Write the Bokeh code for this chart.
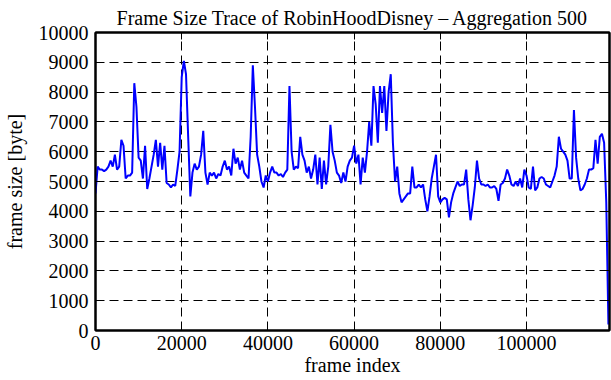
from bokeh.plotting import figure
from bokeh.models import (Range1d, FixedTicker, LinearAxis, BasicTickFormatter,
                          ColumnDataSource)
from bokeh.embed import file_html
from bokeh.resources import INLINE

# ---------------- data ----------------
title_text = "Frame Size Trace of RobinHoodDisney \u2013 Aggregation 500"
x_label = "frame index"
y_label = "frame size [byte]"

aggregation = 500
frame_size = [
    4600, 5500, 5400, 5400, 5350, 5400, 5500, 5700, 5500, 5900,
    5400, 5500, 6400, 6200, 5100, 5200, 5200, 5300, 8300, 7500,
    5800, 5700, 5100, 6200, 4750, 5100, 5500, 5900, 6400, 5500,
    6300, 5400, 6200, 4950, 4900, 4800, 4900, 4850, 5400, 6000,
    8500, 9050, 8600, 6500, 4500, 5300, 5600, 5400, 5500, 5900,
    6700, 5300, 4900, 5300, 5200, 5300, 5100, 5250, 5200, 5500,
    5700, 5400, 5500, 5200, 6100, 5600, 5800, 5400, 5700, 5300,
    5200, 5100, 6500, 8900, 7500, 5900, 5500, 5000, 4800, 5200,
    5000, 5300, 5500, 5300, 5300, 5200, 5250, 5150, 5300, 5400,
    8200, 6000, 5400, 5500, 5450, 6500, 5900, 5700, 5300, 5500,
    5100, 5400, 5900, 4900, 5800, 4750, 5700, 4900, 5500, 6900,
    6000, 5700, 5300, 5200, 4950, 5300, 5000, 5500, 5700, 5800,
    6200, 5600, 5900, 4900, 5800, 5300, 6000, 7000, 6200, 8200,
    7600, 6300, 8200, 7300, 8200, 6700, 8000, 8600, 6300, 5000,
    5500, 4600, 4300, 4400, 4500, 4600, 4600, 5500, 4800, 4800,
    4900, 4800, 4900, 4400, 4000, 4500, 5100, 5500, 5900, 4500,
    4300, 4400, 4450, 4400, 3800, 4300, 4600, 4800, 5000, 4850,
    4900, 4900, 5400, 4400, 3700, 4200, 4800, 5700, 5100, 4900,
    4900, 4850, 4900, 4800, 4800, 4850, 4750, 4350, 4900, 4950,
    5100, 5400, 5200, 4900, 4850, 5000, 4850, 5100, 4800, 5400,
    5200, 4800, 4750, 5500, 4700, 4800, 5100, 5150, 5100, 4900,
    4850, 4800, 5000, 5200, 5500, 6500, 6100, 6000, 5900, 5700,
    5100, 5100, 7400, 5800, 5100, 4700, 4750, 4900, 5100, 5400,
    5400, 5450, 6400, 5600, 6500, 6600, 6300, 4300, 200,
]
frame_index = [i * aggregation for i in range(len(frame_size))]

x_ticks = [0, 20000, 40000, 60000, 80000, 100000]
y_ticks = [0, 1000, 2000, 3000, 4000, 5000, 6000, 7000, 8000, 9000, 10000]
x_max = 119250
y_max = 10000

# ---------------- figure ----------------
FONT = "Liberation Serif"
FS = "20px"

p = figure(width=611, height=380, output_backend="svg", toolbar_location=None,
           title=title_text,
           x_range=Range1d(0, x_max), y_range=Range1d(0, y_max),
           min_border_left=91, min_border_right=2, min_border_top=31,
           min_border_bottom=50, background_fill_color="white",
           border_fill_color="white")

p.title.text_font = FONT
p.title.text_font_size = FS
p.title.text_font_style = "normal"
p.title.text_color = "black"
p.title.align = "center"
p.title.standoff = 8

p.outline_line_color = "black"
p.outline_line_width = 2

src = ColumnDataSource(dict(x=frame_index, y=frame_size))
p.line("x", "y", source=src, line_color="#0000ff", line_width=2)

for ax in (p.xaxis[0], p.yaxis[0]):
    ax.axis_line_color = "black"
    ax.axis_line_width = 2
    ax.major_tick_in = 7
    ax.major_tick_out = 0
    ax.major_tick_line_color = "black"
    ax.major_tick_line_width = 1
    ax.minor_tick_line_color = None
    ax.major_label_text_font = FONT
    ax.major_label_text_font_size = FS
    ax.major_label_text_color = "black"
    ax.axis_label_text_font = FONT
    ax.axis_label_text_font_size = FS
    ax.axis_label_text_font_style = "normal"
    ax.axis_label_text_color = "black"
    ax.formatter = BasicTickFormatter(use_scientific=False)

p.xaxis[0].ticker = FixedTicker(ticks=x_ticks)
p.yaxis[0].ticker = FixedTicker(ticks=y_ticks)
p.xaxis[0].axis_label = x_label
p.yaxis[0].axis_label = y_label
p.xaxis[0].major_label_standoff = 5
p.xaxis[0].axis_label_standoff = 1
p.yaxis[0].major_label_standoff = 7
p.yaxis[0].axis_label_standoff = 10

# mirrored ticks (top and right), no labels
top = LinearAxis(ticker=FixedTicker(ticks=x_ticks))
right = LinearAxis(ticker=FixedTicker(ticks=y_ticks))
for ax in (top, right):
    ax.axis_line_color = "black"
    ax.axis_line_width = 2
    ax.major_tick_in = 7
    ax.major_tick_out = 0
    ax.major_tick_line_color = "black"
    ax.minor_tick_line_color = None
    ax.major_label_text_font_size = "0px"
    ax.major_label_text_color = None
    ax.major_label_standoff = 0
p.add_layout(top, "above")
p.add_layout(right, "right")

# grid
for g in (p.xgrid[0], p.ygrid[0]):
    g.grid_line_color = "black"
    g.grid_line_width = 1
    g.grid_line_dash = "9 5"
p.xgrid[0].ticker = FixedTicker(ticks=x_ticks)
p.ygrid[0].ticker = FixedTicker(ticks=y_ticks)

open("out.html", "w").write(file_html(p, INLINE))
